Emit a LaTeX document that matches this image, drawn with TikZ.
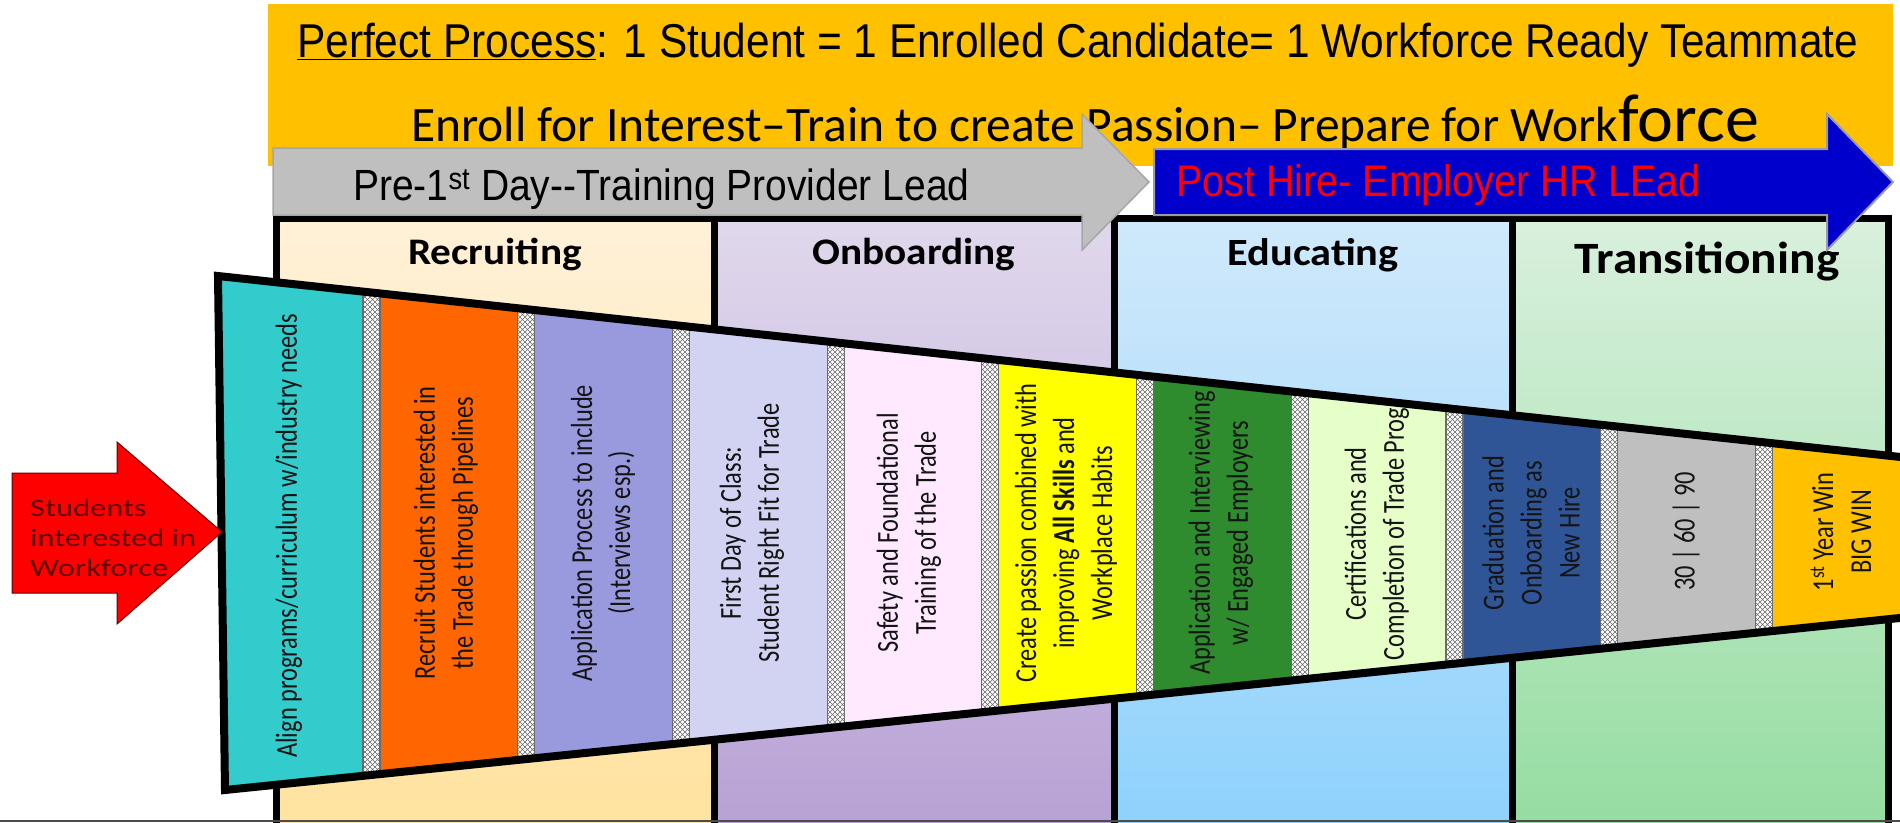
\documentclass[tikz,border=0pt]{standalone}
\usepackage{fontspec}
\setmainfont{Carlito}
\newfontfamily\arialfont{Liberation Sans}
\newfontfamily\widefont[FakeStretch=1.3]{Carlito}
\newfontfamily\headfont[FakeStretch=1.1]{Carlito}
\newfontfamily\cellfont[FakeStretch=0.8]{Carlito}
\usetikzlibrary{patterns.meta}

% palette
\definecolor{banner}{HTML}{FFC000}
\definecolor{greyarrow}{HTML}{BFBFBF}
\definecolor{greyedge}{HTML}{A6A6A6}
\definecolor{bluearrow}{HTML}{0000CC}
\definecolor{blueedge}{HTML}{9A9AAA}
\definecolor{redarrow}{HTML}{FF0000}
\definecolor{redtext}{HTML}{5E0000}
\definecolor{celltext}{HTML}{141414}
\definecolor{cTeal}{HTML}{33CCCC}
\definecolor{cOrange}{HTML}{FF6600}
\definecolor{cPeri}{HTML}{9999DD}
\definecolor{cLilac}{HTML}{D2D2F2}
\definecolor{cPink}{HTML}{FFE9FF}
\definecolor{cYellow}{HTML}{FFFF00}
\definecolor{cGreen}{HTML}{2E8B2E}
\definecolor{cLime}{HTML}{E6FFC8}
\definecolor{cNavy}{HTML}{2F5597}
\definecolor{cGrey}{HTML}{BFBFBF}
\definecolor{cGold}{HTML}{FFC000}
\definecolor{meshline}{HTML}{6A6A6A}
\definecolor{recTop}{HTML}{FFF1D8}
\definecolor{recBot}{HTML}{FFE29E}
\definecolor{onbTop}{HTML}{E0D8EC}
\definecolor{onbBot}{HTML}{B7A0D5}
\definecolor{eduTop}{HTML}{D0E9FB}
\definecolor{eduBot}{HTML}{8DD1FC}
\definecolor{traTop}{HTML}{D9F0DD}
\definecolor{traBot}{HTML}{94DCA0}

% diagonal mesh used for the separator strips
\tikzdeclarepattern{
  name=mesh,
  type=uncolored,
  bounding box={(-1pt,-1pt) and (6pt,6pt)},
  tile size={(5pt,5pt)},
  code={\draw[line width=0.5pt] (0pt,0pt) -- (5pt,5pt) (0pt,5pt) -- (5pt,0pt);}
}

% slightly tall sans lettering for the banner lines
\newcommand{\tallsans}[1]{\scalebox{1}[1.12]{#1}}

\begin{document}
\begin{tikzpicture}[x=1pt,y=-1pt,
  celltxt/.style={rotate=90, align=center, text=celltext, inner sep=0pt,
                  font=\cellfont\fontsize{30.5}{38}\selectfont},
  hdgtxt/.style={anchor=base, inner sep=0pt, font=\headfont\bfseries\fontsize{37.5}{45}\selectfont},
  frame/.style={line width=7pt},
  sep/.style={meshline, line width=1.2pt}]
\useasboundingbox (0,0) rectangle (1900,822);
\clip (0,0) rectangle (1900,822);
\fill[white] (0,0) rectangle (1900,822);

% stage columns
\shade[top color=recTop, bottom color=recBot] (276,218) rectangle (714,840);
\shade[top color=onbTop, bottom color=onbBot] (714,218) rectangle (1114,840);
\shade[top color=eduTop, bottom color=eduBot] (1114,218) rectangle (1512,840);
\shade[top color=traTop, bottom color=traBot] (1512,218) rectangle (1888,840);
\draw[frame] (276,850) -- (276,218) -- (1888,218) -- (1888,850);
\foreach \x in {714,1114,1512} \draw[frame] (\x,218) -- (\x,850);

\node[hdgtxt] (hRec) at (495,264) {Recruiting};
\node[hdgtxt] (hOnb) at (914,264) {Onboarding};
\node[hdgtxt, font=\headfont\bfseries\fontsize{38.5}{46}\selectfont] (hEdu) at (1313,265) {Educating};
\node[hdgtxt, font=\headfont\bfseries\fontsize{44.8}{54}\selectfont] (hTra) at (1707,273) {Transitioning};

% banner
\fill[banner] (268,4) rectangle (1893,166);
\node[anchor=base west, inner sep=0pt, font=\arialfont\fontsize{42.4}{50}\selectfont] (motto) at (297,57)
  {\tallsans{\underline{Perfect Process}: 1 Student = 1 Enrolled Candidate= 1 Workforce Ready Teammate}};
\node[anchor=base west, inner sep=0pt, font=\fontsize{49.5}{58}\selectfont] (slogan) at (411,141)
  {Enroll for Interest–Train to create Passion– Prepare for Work{\fontsize{68}{72}\selectfont force}};

% lead arrows
\filldraw[fill=greyarrow, draw=greyedge, line width=1.5pt]
  (273,148) -- (1082,148) -- (1082,114) -- (1149,182) -- (1082,250) -- (1082,215) -- (273,215) -- cycle;
\node[anchor=base west, inner sep=0pt, font=\arialfont\fontsize{39}{46}\selectfont] (pre) at (353,200)
  {\tallsans{Pre-1\textsuperscript{st} Day-{}-Training Provider Lead}};
\filldraw[fill=bluearrow, draw=blueedge, line width=2pt]
  (1154,149) -- (1827,149) -- (1827,114) -- (1893,182) -- (1827,250) -- (1827,215) -- (1154,215) -- cycle;
\node[anchor=base west, inner sep=0pt, text=red, font=\arialfont\fontsize{39.5}{46}\selectfont] (post) at (1176,196)
  {\tallsans{Post Hire- Employer HR LEad}};

% funnel of steps
\begin{scope}
  \clip (218,276) -- (1960,463.4) -- (1960,611.8) -- (225,790) -- cycle;
  \fill[cTeal] (200,200) rectangle (363,900);
  \foreach \i/\c in {1/cOrange,2/cPeri,3/cLilac,4/cPink,5/cYellow,6/cGreen,7/cLime,8/cNavy,9/cGrey,10/cGold}{
    \pgfmathsetmacro\cl{363+154.7*(\i-1)}
    \pgfmathsetmacro\cr{363+154.7*\i}
    \fill[\c] (\cl,200) rectangle (\cr,900);
  }
  \foreach \j in {1,...,10}{
    \pgfmathsetmacro\hl{363+154.7*(\j-1)}
    \pgfmathsetmacro\hr{\hl+17}
    \fill[white] (\hl,200) rectangle (\hr,900);
    \fill[pattern=mesh, pattern color=meshline] (\hl,200) rectangle (\hr,900);
    \draw[sep] (\hl,200) -- (\hl,900) (\hr,200) -- (\hr,900);
  }
\end{scope}
\draw[line width=8pt, line join=miter] (218,276) -- (1960,463.4) -- (1960,611.8) -- (225,790) -- cycle;

\node[celltxt] (t0) at (289,536) {Align programs/curriculum w/industry needs};
\node[celltxt] (t1) at (446,533) {Recruit Students interested in\\the Trade through Pipelines};
\node[celltxt] (t2) at (603,533) {Application Process to include\\(Interviews esp.)};
\node[celltxt] (t3) at (752,533) {First Day of Class:\\Student Right Fit for Trade};
\node[celltxt] (t4) at (909,533) {Safety and Foundational\\Training of the Trade};
\node[celltxt] (t5) at (1066,533) {Create passion combined with\\improving \textbf{All Skills} and\\Workplace Habits};
\node[celltxt] (t6) at (1221,533) {Application and Interviewing\\w/ Engaged Employers};
\node[celltxt] (t7) at (1377,534) {Certifications and\\Completion of Trade Prog};
\node[celltxt] (t8) at (1531,533) {Graduation and\\Onboarding as\\New Hire};
\node[celltxt] (t9) at (1686,531) {30 | 60 | 90};
\node[celltxt] (t10) at (1841,532) {1\textsuperscript{st} Year Win\\BIG WIN};

% entry arrow
\filldraw[fill=redarrow, draw=redtext, line width=1pt]
  (12,473) -- (117,473) -- (117,442) -- (222,532) -- (117,624) -- (117,593) -- (12,593) -- cycle;
\node[anchor=west, align=left, inner sep=0pt, text=redtext, font=\widefont\fontsize{25}{30}\selectfont] (stud) at (30,538)
  {Students\\interested in\\Workforce};

% lower page edge
\draw[line width=2pt, color=black!70] (0,821) -- (1900,821);
\end{tikzpicture}
\end{document}
